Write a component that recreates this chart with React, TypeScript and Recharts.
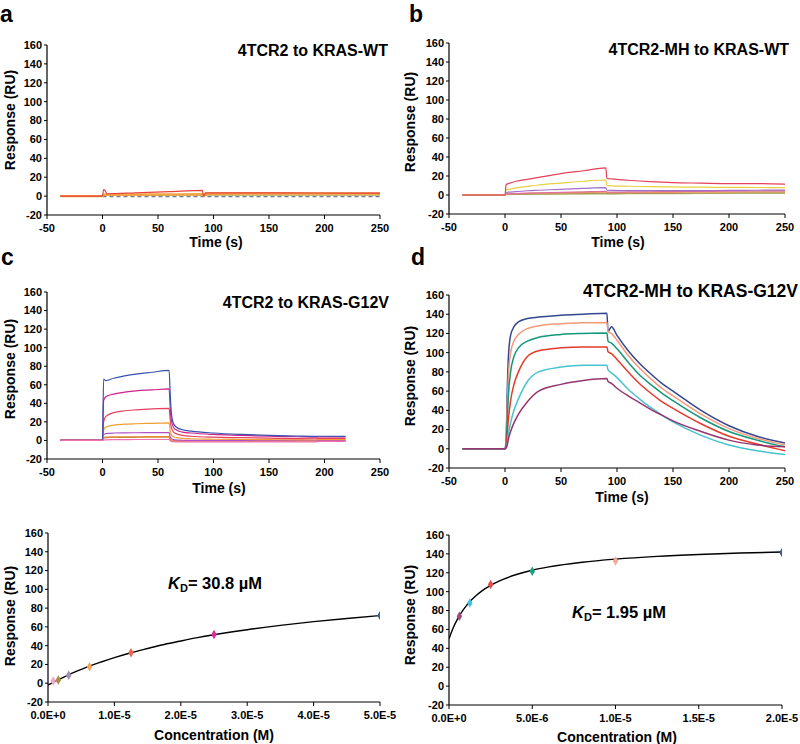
import React from 'react';
import { LineChart, Line, XAxis, YAxis, ZAxis, ComposedChart, Scatter, Cell } from 'recharts';

const FONT = '"Liberation Sans", Arial, Helvetica, sans-serif';

// shared axis ticks
const TIME_TICKS = [-50, 0, 50, 100, 150, 200, 250];
const RESP_TICKS = [-20, 0, 20, 40, 60, 80, 100, 120, 140, 160];

// ---- panel a: 4TCR2 to KRAS-WT ----
const timesA = [-38, 0, 1, 2, 4, 30, 60, 90, 91, 93, 130, 190, 250];
const aRed = [0, 0, 7, 6.5, 2.5, 3.5, 4.7, 6, 0, 3.5, 3.5, 3.3, 3.2];
const aOrange = [0, 0, 1.5, 1.5, 1.3, 1.5, 1.8, 2, 0.5, 2.5, 2.7, 2.7, 2.7];
const aOlive = [0, 0, 0.8, 0.8, 0.7, 0.8, 0.9, 1, 0, 1, 1, 1, 1];
const aGrey = [null, -0.5, -0.5, -0.5, -0.5, -0.5, -0.5, -0.5, -0.5, -0.5, -0.5, -0.5, -0.5];

// ---- panel b: 4TCR2-MH to KRAS-WT ----
const timesB = [-38, 0, 1, 3, 10, 20, 30, 50, 70, 90, 91, 95, 110, 130, 150, 175, 200, 225, 250];
const bRed = [0, 0, 11, 12, 14.5, 16.5, 18.5, 22.5, 25.5, 28.5, 17.5, 17, 15.5, 14, 13, 12.5, 12, 12, 11.5];
const bYellow = [0, 0, 5.5, 6, 7.5, 9, 10.5, 12.5, 14.5, 15.8, 10, 9.7, 9.2, 8.8, 8.5, 8.2, 8, 7.9, 7.8];
const bPurple = [0, 0, 2.5, 3, 3.5, 4.5, 5, 6, 7, 7.8, 5, 4.8, 4.6, 4.6, 4.6, 4.7, 4.8, 5, 5.2];
const bPink = [0, 0, 1, 1.2, 1.5, 2, 2.3, 2.8, 3.3, 3.8, 3, 3, 3.2, 3.4, 3.6, 3.8, 4, 4.2, 4.3];
const bOrange = [0, 0, 1, 1.2, 1.5, 1.8, 2, 2.3, 2.6, 3, 2.5, 2.5, 2.6, 2.7, 2.8, 3, 3.1, 3.2, 3.3];
const bBrown = [0, 0, 0.8, 0.8, 0.9, 1, 1.1, 1.3, 1.5, 1.7, 1.5, 1.5, 1.6, 1.7, 1.8, 2, 2.1, 2.2, 2.3];
const bGreen = [0, 0, 0.5, 0.5, 0.6, 0.7, 0.8, 1, 1.1, 1.2, 1.2, 1.2, 1.3, 1.4, 1.5, 1.6, 1.8, 1.9, 2];

// ---- panel c: 4TCR2 to KRAS-G12V ----
const timesC = [-38, 0, 1, 3, 10, 20, 30, 45, 60, 61, 62, 64, 67, 72, 80, 100, 125, 150, 175, 193, 194, 219];
const cBlue = [0, 0, 66, 64.5, 67, 69.5, 71.5, 73.5, 75.5, 50, 30, 18, 14, 11.5, 10, 8, 6.5, 5.5, 4.8, 4.3, 4.5, 4.3];
const cMagenta = [0, 0, 43, 47, 50, 52, 53.5, 54.5, 55.5, 35, 22, 14, 11, 9, 8, 6.5, 5.5, 4.5, 4, 3.5, 4, 3.8];
const cRed = [0, 0, 20, 26, 30, 32, 33, 34, 34.5, 22, 14, 9, 7, 5.5, 4.5, 3.5, 3, 2.5, 2, 1.8, 2.5, 2.3];
const cOrange = [0, 0, 11, 14.5, 16.5, 17.5, 18, 18.5, 19, 10, 6, 4, 3, 2.3, 1.8, 1.3, 1, 0.8, 0.6, 0.5, 1.2, 1];
const cPurple = [0, 0, 6, 7.5, 8, 8.2, 8.3, 8.4, 8.5, 4, 2, 1, 0.5, 0.2, 0, 0, 0, 0, 0, 0, 0.3, 0.3];
const cOrange2 = [0, 0, 3, 3.5, 3.8, 4, 4, 4.1, 4.2, 1.5, 0.5, 0, -0.3, -0.5, -0.5, -0.5, -0.5, -0.5, -0.5, -0.5, 0, 0];
const cBrown = [0, 0, 2.5, 3, 3.2, 3.3, 3.4, 3.5, 3.5, 1, 0, -0.5, -0.7, -0.8, -0.8, -0.8, -0.8, -0.8, -0.8, -0.8, -0.3, -0.3];
const cPink = [0, 0, 0.5, 0.7, 0.8, 0.9, 1, 1, 1, -0.5, -1, -1.3, -1.5, -1.5, -1.5, -1.5, -1.5, -1.5, -1.5, -1.5, -1, -1];

// ---- panel d: 4TCR2-MH to KRAS-G12V ----
const timesD = [-38, 0, 1, 2, 3, 5, 8, 12, 20, 30, 50, 70, 91, 92, 95, 100, 110, 120, 130, 140, 150, 175, 200, 225, 250];
const dBlue = [0, 0, 10, 60, 95, 118, 127, 132, 135.5, 137, 139, 140, 141, 122, 127, 118, 102, 89, 78, 68, 60, 40, 24, 13, 6];
const dSalmon = [0, 0, 8, 45, 75, 100, 112, 119, 125, 128, 130, 131, 131.5, 122, 120, 113, 97, 84, 73, 63, 55, 36, 21, 11, 4];
const dTeal = [0, 0, 4, 30, 55, 80, 96, 105, 112, 116, 119, 120, 120.5, 112, 110, 104, 90, 77, 67, 58, 50, 32, 18, 9, 2];
const dRed = [0, 0, 3, 15, 30, 50, 67, 80, 96, 102, 105, 106, 106, 101, 99, 93, 80, 68, 58, 49, 42, 26, 13, 5, -2];
const dCyan = [0, 0, 1, 6, 15, 27, 40, 52, 70, 80, 85, 87, 87, 82, 79, 74, 62, 52, 43, 35, 28, 14, 4, -2, -6];
const dPlum = [0, 0, 1, 4, 10, 18, 27, 36, 49, 60, 67, 71, 73, 70, 68, 63, 55, 48, 41, 35, 29, 18, 9, 4, 2];

// ---- panel e: steady-state fit, 4TCR2 ----
const eTicks = [0, 1e-5, 2e-5, 3e-5, 4e-5, 5e-5];
const eTickLabels = ['0.0E+0', '1.0E-5', '2.0E-5', '3.0E-5', '4.0E-5', '5.0E-5'];
const eFitConc = [0, 1e-6, 2e-6, 3e-6, 4e-6, 5e-6, 6.25e-6, 8e-6, 1e-5, 1.25e-5, 1.5e-5, 1.75e-5, 2e-5, 2.25e-5, 2.5e-5, 3e-5, 3.5e-5, 4e-5, 4.5e-5, 5e-5];
const eFitResp = [-2, 1.8, 5.2, 8.6, 11.8, 14.7, 18.2, 22.6, 27.3, 32.5, 37, 41.3, 45, 48.5, 51.6, 57, 61.6, 65.6, 69, 72];
const ePtConc = [7.8e-7, 1.56e-6, 3.125e-6, 6.25e-6, 1.25e-5, 2.5e-5, 5e-5];
const ePtResp = [2.3, 3.4, 8.4, 17.6, 32.5, 52, 72];
const ePtColors = ['#F2A6CC', '#A89040', '#A090B8', '#F4A656', '#EA6650', '#E02AA0', '#3A5CB0'];

// ---- panel f: steady-state fit, 4TCR2-MH ----
const fTicks = [0, 5e-6, 1e-5, 1.5e-5, 2e-5];
const fTickLabels = ['0.0E+0', '5.0E-6', '1.0E-5', '1.5E-5', '2.0E-5'];
const fFitConc = [0, 1e-7, 2.5e-7, 5e-7, 7.5e-7, 1e-6, 1.25e-6, 1.5e-6, 2e-6, 2.5e-6, 3e-6, 4e-6, 5e-6, 6e-6, 8e-6, 1e-5, 1.25e-5, 1.5e-5, 1.75e-5, 2e-5];
const fFitResp = [50, 54.9, 61.5, 70.6, 78.1, 84.2, 89.5, 93.9, 101.1, 106.7, 111.2, 117.9, 122.7, 126.2, 131.2, 134.5, 137.4, 139.4, 140.9, 142];
const fPtConc = [6.25e-7, 1.25e-6, 2.5e-6, 5e-6, 1e-5, 2e-5];
const fPtResp = [74, 88, 107.5, 121.5, 132.5, 141.5];
const fPtColors = ['#9E4A7A', '#45C0D8', '#E84848', '#18A080', '#F4A898', '#3A50A0'];

type Box = { left: number; top: number; w: number; h: number; x0: number; x1: number; y0: number; y1: number };
type Series = { values: (number | null)[]; color: string; width?: number; dash?: string };

const tickStyle = { fontSize: 11, fontWeight: 700, fill: '#000', fontFamily: FONT };
const axisLine = { stroke: '#000', strokeWidth: 1.2 };

const marginOf = (b: Box) => ({ top: b.y0 - b.top, right: b.left + b.w - b.x1, bottom: 0, left: 0 });

function Sensorgram({ box, times, series }: { box: Box; times: number[]; series: Series[] }) {
  const rows = times.map((t, i) => {
    const r: Record<string, number | null> = { t };
    series.forEach((s, k) => { r['s' + k] = s.values[i]; });
    return r;
  });
  return (
    <div style={{ position: 'absolute', left: box.left, top: box.top }}>
      <LineChart width={box.w} height={box.h} data={rows} margin={marginOf(box)}>
        <XAxis
          dataKey="t"
          type="number"
          domain={[-50, 250]}
          ticks={TIME_TICKS}
          interval={0}
          height={box.top + box.h - box.y1}
          tick={tickStyle}
          tickSize={4}
          tickMargin={5}
          axisLine={axisLine}
          tickLine={{ stroke: '#000' }}
          allowDataOverflow
        />
        <YAxis
          type="number"
          domain={[-20, 160]}
          ticks={RESP_TICKS}
          interval={0}
          width={box.x0 - box.left}
          tick={tickStyle}
          tickSize={3}
          tickMargin={2}
          axisLine={axisLine}
          tickLine={{ stroke: '#000' }}
          allowDataOverflow
        />
        {series.map((s, k) => (
          <Line
            key={k}
            dataKey={'s' + k}
            type="monotone"
            stroke={s.color}
            strokeWidth={s.width ?? 1.2}
            strokeDasharray={s.dash}
            dot={false}
            activeDot={false}
            isAnimationActive={false}
          />
        ))}
      </LineChart>
    </div>
  );
}

function Binding(props: {
  box: Box; ticks: number[]; labels: string[];
  fitX: number[]; fitY: number[]; ptX: number[]; ptY: number[]; colors: string[];
}) {
  const { box, ticks, labels } = props;
  const fit = props.fitX.map((c, i) => ({ c, r: props.fitY[i] }));
  const pts = props.ptX.map((c, i) => ({ c, r: props.ptY[i] }));
  const xMax = ticks[ticks.length - 1];
  return (
    <div style={{ position: 'absolute', left: box.left, top: box.top }}>
      <ComposedChart width={box.w} height={box.h} margin={marginOf(box)}>
        <XAxis
          dataKey="c"
          type="number"
          domain={[0, xMax]}
          ticks={ticks}
          interval={0}
          tickFormatter={(_v: number, i: number) => labels[i]}
          height={box.top + box.h - box.y1}
          tick={tickStyle}
          tickSize={4}
          tickMargin={5}
          axisLine={axisLine}
          tickLine={{ stroke: '#000' }}
          allowDataOverflow
        />
        <YAxis
          dataKey="r"
          type="number"
          domain={[-20, 160]}
          ticks={RESP_TICKS}
          interval={0}
          width={box.x0 - box.left}
          tick={tickStyle}
          tickSize={3}
          tickMargin={2}
          axisLine={axisLine}
          tickLine={{ stroke: '#000' }}
          allowDataOverflow
        />
        <ZAxis range={[26, 26]} />
        <Line data={fit} dataKey="r" type="monotone" stroke="#000" strokeWidth={1.4} dot={false} activeDot={false} isAnimationActive={false} />
        <Scatter data={pts} dataKey="r" shape="diamond" isAnimationActive={false}>
          {pts.map((_p, i) => <Cell key={i} fill={props.colors[i]} />)}
        </Scatter>
      </ComposedChart>
    </div>
  );
}

const boxA: Box = { left: 0, top: 0, w: 400, h: 250, x0: 47, x1: 380, y0: 45, y1: 215 };
const boxB: Box = { left: 400, top: 0, w: 400, h: 250, x0: 449, x1: 785, y0: 43, y1: 214 };
const boxC: Box = { left: 0, top: 250, w: 400, h: 250, x0: 47, x1: 380, y0: 292, y1: 459 };
const boxD: Box = { left: 400, top: 250, w: 400, h: 250, x0: 449, x1: 785, y0: 295, y1: 468 };
const boxE: Box = { left: 0, top: 500, w: 400, h: 244, x0: 48, x1: 380, y0: 533, y1: 702 };
const boxF: Box = { left: 400, top: 500, w: 400, h: 244, x0: 449, x1: 782, y0: 535, y1: 705 };

function YTitle({ x, y }: { x: number; y: number }) {
  return (
    <text x={x} y={y} transform={`rotate(-90, ${x}, ${y})`} textAnchor="middle" dominantBaseline="central" fontSize={14}>
      Response (RU)
    </text>
  );
}

function XTitle({ x, y, text }: { x: number; y: number; text: string }) {
  return <text x={x} y={y} textAnchor="middle" dominantBaseline="central" fontSize={14}>{text}</text>;
}

function Kd({ x, y, value }: { x: number; y: number; value: string }) {
  return (
    <text x={x} y={y} dominantBaseline="central" fontSize={16.5}>
      <tspan fontStyle="italic">K</tspan>
      <tspan fontSize={11} dy={5}>D</tspan>
      <tspan dy={-5}>{`= ${value} µM`}</tspan>
    </text>
  );
}

export default function App() {
  return (
    <div style={{ position: 'absolute', left: 0, top: 0, width: 800, height: 744, background: '#fff', fontFamily: FONT }}>
      <Sensorgram box={boxA} times={timesA} series={[
        { values: aGrey, color: '#6E7B9A', dash: '4 3', width: 1.4 },
        { values: aOlive, color: '#B0A050' },
        { values: aOrange, color: '#F2A541', width: 2.4 },
        { values: aRed, color: '#E8403A' },
      ]} />
      <Sensorgram box={boxB} times={timesB} series={[
        { values: bGreen, color: '#A8C060' },
        { values: bBrown, color: '#B09060' },
        { values: bOrange, color: '#E8A050' },
        { values: bPink, color: '#E070A0' },
        { values: bPurple, color: '#A070C8' },
        { values: bYellow, color: '#E8D040' },
        { values: bRed, color: '#E8405A' },
      ]} />
      <Sensorgram box={boxC} times={timesC} series={[
        { values: cBrown, color: '#B09040' },
        { values: cOrange2, color: '#F08838' },
        { values: cPurple, color: '#B050C8' },
        { values: cOrange, color: '#F0A030' },
        { values: cRed, color: '#E84060' },
        { values: cMagenta, color: '#D0208A' },
        { values: cBlue, color: '#3752B0' },
        { values: cPink, color: '#F070B0' },
      ]} />
      <Sensorgram box={boxD} times={timesD} series={[
        { values: dBlue, color: '#33468F', width: 1.5 },
        { values: dSalmon, color: '#F4997A', width: 1.5 },
        { values: dTeal, color: '#12977A', width: 1.5 },
        { values: dRed, color: '#E53A2A', width: 1.5 },
        { values: dCyan, color: '#45C3CF', width: 1.5 },
        { values: dPlum, color: '#95356E', width: 1.5 },
      ]} />
      <Binding box={boxE} ticks={eTicks} labels={eTickLabels} fitX={eFitConc} fitY={eFitResp} ptX={ePtConc} ptY={ePtResp} colors={ePtColors} />
      <Binding box={boxF} ticks={fTicks} labels={fTickLabels} fitX={fFitConc} fitY={fFitResp} ptX={fPtConc} ptY={fPtResp} colors={fPtColors} />

      <svg width={800} height={744} style={{ position: 'absolute', left: 0, top: 0, pointerEvents: 'none' }}
        fontFamily={FONT} fontWeight={700} fill="#000">
        <text x={0} y={22} fontSize={23}>a</text>
        <text x={409} y={22} fontSize={23}>b</text>
        <text x={1} y={265} fontSize={23}>c</text>
        <text x={411} y={265} fontSize={23}>d</text>

        <text x={388} y={50} textAnchor="end" dominantBaseline="central" fontSize={16}>4TCR2 to KRAS-WT</text>
        <text x={789} y={49} textAnchor="end" dominantBaseline="central" fontSize={16}>4TCR2-MH to KRAS-WT</text>
        <text x={389} y={302} textAnchor="end" dominantBaseline="central" fontSize={16}>4TCR2 to KRAS-G12V</text>
        <text x={798} y={291} textAnchor="end" dominantBaseline="central" fontSize={17.5}>4TCR2-MH to KRAS-G12V</text>

        <YTitle x={10} y={120} />
        <YTitle x={410} y={122} />
        <YTitle x={10} y={369} />
        <YTitle x={410} y={376} />
        <YTitle x={10} y={616} />
        <YTitle x={410} y={615} />

        <XTitle x={216} y={242} text="Time (s)" />
        <XTitle x={618} y={242} text="Time (s)" />
        <XTitle x={219} y={488} text="Time (s)" />
        <XTitle x={622} y={497} text="Time (s)" />
        <XTitle x={214} y={735} text="Concentration (M)" />
        <XTitle x={617} y={737} text="Concentration (M)" />

        <Kd x={168} y={583} value="30.8" />
        <Kd x={572} y={612} value="1.95" />
      </svg>
    </div>
  );
}
